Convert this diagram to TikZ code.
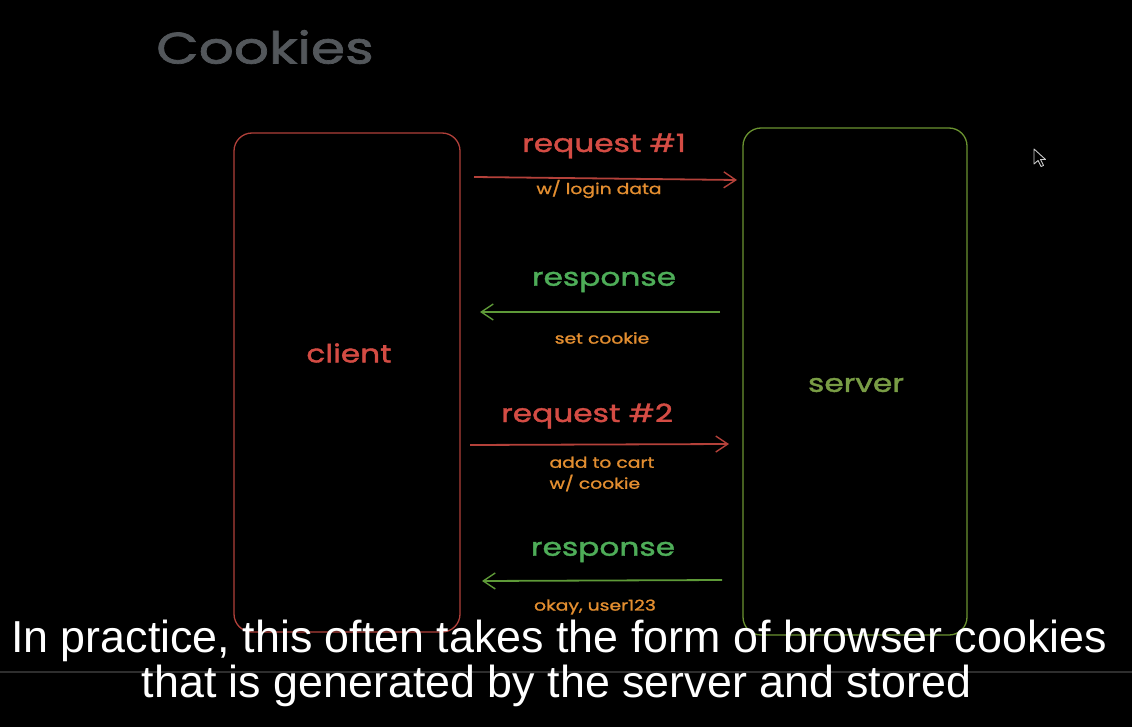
\documentclass[tikz,border=0pt]{standalone}
\usepackage{fontspec}
\setmainfont{Liberation Sans}
\newfontfamily\hand[FakeStretch=1.25,FakeBold=1.6]{Poppins}
\newfontfamily\handsmall[FakeStretch=1.25,FakeBold=1.2]{Poppins}
\usetikzlibrary{arrows.meta}
\definecolor{boxred}{HTML}{B0403A}
\definecolor{boxgreen}{HTML}{6A9230}
\definecolor{reqred}{HTML}{D44C44}
\definecolor{respgreen}{HTML}{4EAD58}
\definecolor{arrgreen}{HTML}{5E9A38}
\definecolor{noteorange}{HTML}{E38E30}
\definecolor{titlegray}{HTML}{53575B}
\begin{document}
\begin{tikzpicture}[x=1pt,y=-1pt,
  panel/.style={draw, line width=1.3pt, rounded corners=18pt, minimum width=#1, inner sep=0pt},
  biglabel/.style={font=\hand\fontsize{25}{28}\selectfont},
  note/.style={font=\handsmall\fontsize{15}{21}\selectfont, text=noteorange},
  reqarrow/.style={draw=reqred!85!black, line width=1.8pt, -{Straight Barb[length=12pt,width=16pt,line width=1.4pt]}},
  resparrow/.style={draw=arrgreen, line width=1.8pt, -{Straight Barb[length=12pt,width=16pt,line width=1.4pt]}},
  subtitle/.style={text=white, font=\fontsize{44.8}{50}\selectfont, anchor=base, inner sep=0pt}]
\fill[black] (0,0) rectangle (1132,727);
\useasboundingbox (0,0) rectangle (1132,727);
% faint horizontal line
\draw[line width=1.2pt, color=white!18!black] (0,672) -- (1132,672);
% title
\node[font=\hand\fontsize{44}{48}\selectfont, text=titlegray] (title) at (265,47) {Cookies};
% boxes
\node[panel=226pt, draw=boxred, minimum height=499pt] (client) at (347,382.5) {};
\node[panel=224pt, draw=boxgreen, minimum height=507pt] (server) at (855,381.5) {};
\node[biglabel, text=reqred] (clientlbl) at (349,353) {client};
\node[biglabel, text=boxgreen!90!white] (serverlbl) at (856,385) {server};
% arrow end points
\coordinate (r1s) at (474,177); \coordinate (r1e) at (737,180);
\coordinate (p1s) at (720,312); \coordinate (p1e) at (480,312);
\coordinate (r2s) at (470,445); \coordinate (r2e) at (729,444);
\coordinate (p2s) at (722,580); \coordinate (p2e) at (482,581);
\draw[reqarrow] (r1s) -- (r1e);
\draw[resparrow] (p1s) -- (p1e);
\draw[reqarrow] (r2s) -- (r2e);
\draw[resparrow] (p2s) -- (p2e);
% labels
\node[biglabel, text=reqred] (l1) at (604,146) {request \#1};
\node[note] (n1) at (599,189) {w/ login data};
\node[biglabel, text=respgreen] (l2) at (604,282) {response};
\node[note] (n2) at (602,338) {set cookie};
\node[biglabel, text=reqred] (l3) at (587,416) {request \#2};
\node[note, anchor=west, align=left] (n3) at (546,474) {add to cart\\w/ cookie};
\node[biglabel, text=respgreen] (l4) at (603,552) {response};
\node[note] (n4) at (595,607) {okay, user123};
% cursor
\draw[fill=black, draw=white!80!black, line width=0.9pt, line join=round]
  (1034,149) -- (1034,164) -- (1038,160.5) -- (1041,166.5) -- (1043.5,165.5) -- (1040.5,159.5) -- (1045.5,159.5) -- cycle;
% subtitles
\node[subtitle] (sub1) at (559,652) {In practice, this often takes the form of browser cookies};
\node[subtitle] (sub2) at (556.5,697) {that is generated by the server and stored};
\end{tikzpicture}
\end{document}
